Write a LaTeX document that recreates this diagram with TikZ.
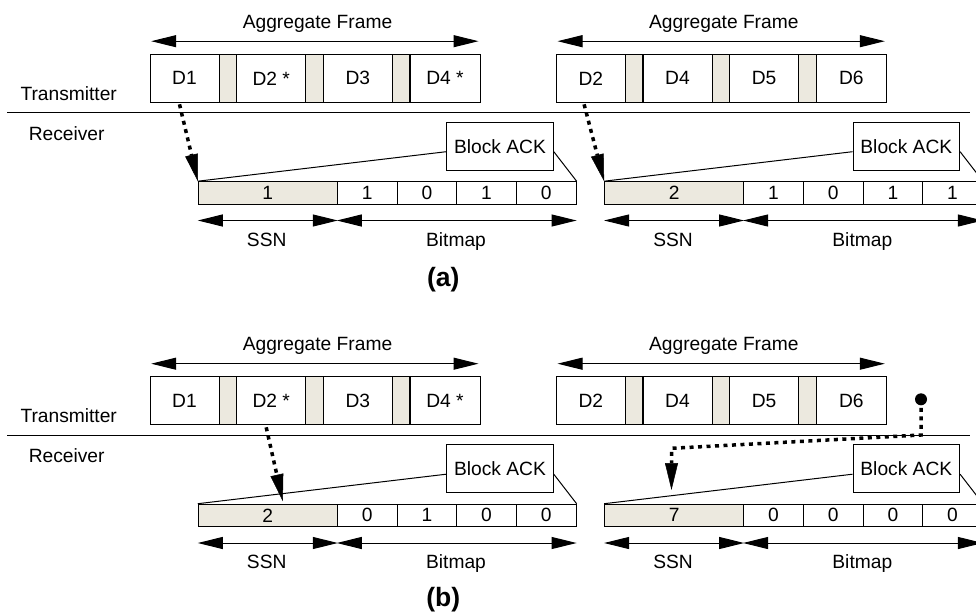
\documentclass[tikz,border=0pt]{standalone}
\usepackage{fontspec}
\setmainfont{Liberation Sans}
\usetikzlibrary{arrows.meta,calc}
\definecolor{beige}{RGB}{236,233,223}
\tikzset{
  frm/.style={draw, fill=white, minimum height=48pt, inner sep=0pt},
  gapb/.style={draw, fill=beige, minimum width=17.5pt, minimum height=48pt, inner sep=0pt},
  ssnbox/.style={draw, fill=beige, minimum width=139pt, minimum height=22.3pt, inner sep=0pt},
  bitbox/.style={draw, fill=white, minimum width=59.7pt, minimum height=22.3pt, inner sep=0pt},
  ackbox/.style={draw, fill=white, minimum width=106.6pt, minimum height=47.7pt, inner sep=0pt},
  dimarrow/.style={{Triangle[length=25pt,width=12pt]}-{Triangle[length=25pt,width=12pt]}, line width=1pt},
  dotarrow/.style={-{Triangle[length=27pt,width=13pt,line width=0.5pt]}, line width=3.5pt, dash pattern=on 4pt off 4.5pt},
  lbl/.style={anchor=base, inner sep=0pt},
  caplbl/.style={anchor=base, inner sep=0pt, font=\fontsize{26.5}{30}\selectfont\bfseries},
}
\newcommand\ackpanel[9]{%
  \node[frm,minimum width=69pt] (f1) at (184.5,78.3) {#1};
  \node[gapb] (g1) at (227.85,78.3) {};
  \node[frm,minimum width=69pt] (f2) at (271.2,78.3) {#2};
  \node[gapb] (g2) at (314.5,78.3) {};
  \node[frm,minimum width=69pt] (f3) at (357.8,78.3) {#3};
  \node[gapb] (g3) at (401.15,78.3) {};
  \node[frm,minimum width=70pt] (f4) at (445,78.3) {#4};
  \draw[dimarrow] ([xshift=1.7pt,yshift=12.6pt]f1.north west) -- ([xshift=-2pt,yshift=12.6pt]f4.north east);
  \node[lbl] (agg) at (317.5,28.3) {Aggregate Frame};
  \node[ackbox] (ack) at (500,146.2) {Block ACK};
  \node[ssnbox] (ssn) at (267.8,192.85) {#5};
  \node[bitbox] (b1) at (367.15,192.85) {#6};
  \node[bitbox] (b2) at (426.85,192.85) {#7};
  \node[bitbox] (b3) at (486.55,192.85) {#8};
  \node[bitbox] (b4) at (546.25,192.85) {#9};
  \draw ([yshift=-5.5pt]ack.west) -- (ssn.north west);
  \draw ([yshift=-5.5pt]ack.east) -- (b4.north east);
  \draw[dimarrow] ([yshift=-16pt]ssn.south west) -- ([yshift=-16pt]ssn.south east);
  \draw[dimarrow] ([yshift=-16pt]b1.south west) -- ([yshift=-16pt]b4.south east);
  \node[lbl] (ssnl) at (266.7,246) {SSN};
  \node[lbl] (bml) at (456,246) {Bitmap};
}
\begin{document}
\begin{tikzpicture}[x=1pt,y=-1pt,line width=1pt,font=\fontsize{19.2}{23}\selectfont]
\useasboundingbox (0,0) rectangle (976,613);
\clip (0,0) rectangle (976,613);
% row (a)
\coordinate (sepAl) at (7,112.7);
\coordinate (sepAr) at (970,112.7);
\draw (sepAl) -- (sepAr);
\node[anchor=base west, inner sep=0pt] (txA) at (20,100) {Transmitter};
\node[anchor=base west, inner sep=0pt] (rxA) at (28.3,140) {Receiver};
\node[caplbl] (capA) at (443.3,286) {(a)};
\begin{scope}[name prefix=pA-]
  \ackpanel{D1}{D2 *}{D3}{D4 *}{1}{1}{0}{1}{0}
\end{scope}
\begin{scope}[shift={(406.3,0)},name prefix=pB-]
  \ackpanel{D2}{D4}{D5}{D6}{2}{1}{0}{1}{1}
\end{scope}
\draw[dotarrow] ([xshift=30pt,yshift=-1.5pt]pA-f1.south west) -- (pA-ssn.north west);
\draw[dotarrow] ([xshift=28.3pt,yshift=-1.5pt]pB-f1.south west) -- (pB-ssn.north west);
% row (b)
\coordinate (sepBl) at (7,435.2);
\coordinate (sepBr) at (970,435.2);
\draw (sepBl) -- (sepBr);
\node[anchor=base west, inner sep=0pt] (txB) at (20,422.5) {Transmitter};
\node[anchor=base west, inner sep=0pt] (rxB) at (28.3,462.5) {Receiver};
\node[caplbl] (capB) at (443.3,606) {(b)};
\begin{scope}[shift={(0,322.5)},name prefix=pC-]
  \ackpanel{D1}{D2 *}{D3}{D4 *}{2}{0}{1}{0}{0}
\end{scope}
\begin{scope}[shift={(406.3,322.5)},name prefix=pD-]
  \ackpanel{D2}{D4}{D5}{D6}{7}{0}{0}{0}{0}
\end{scope}
\draw[dotarrow] ([xshift=30pt,yshift=-2pt]pC-f2.south west) -- ([xshift=85pt,yshift=2.5pt]pC-ssn.north west);
\node[circle, fill, inner sep=0pt, minimum size=12pt] (dot) at (921,399.3) {};
\coordinate (bend1) at (921,435);
\coordinate (bend2) at (671.5,448.3);
\coordinate (tipD) at (671.5,490);
\draw[dotarrow] (dot.center) -- (bend1) -- (bend2) -- (tipD);
\end{tikzpicture}
\end{document}
